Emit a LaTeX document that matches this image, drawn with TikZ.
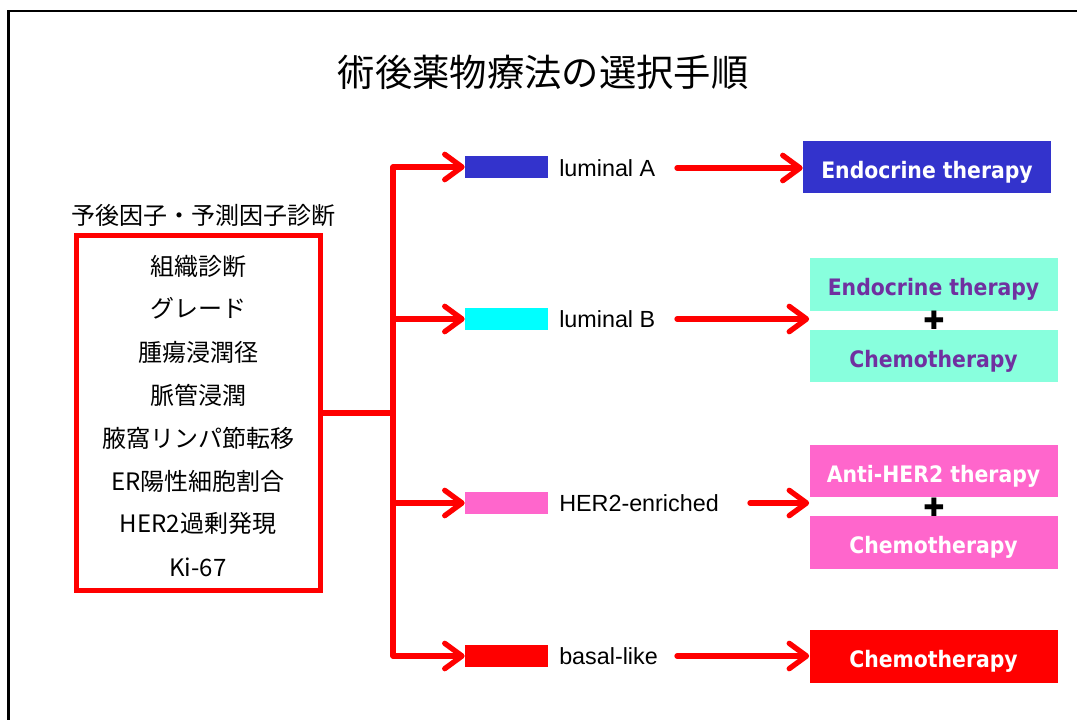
\documentclass[tikz,border=0pt]{standalone}
\usepackage{fontspec}
\setmainfont{Liberation Sans}
\newfontfamily\jp{Noto Sans CJK JP}
\newfontfamily\bx{DejaVu Sans Condensed}
\newfontfamily\sym{DejaVu Sans}
\usetikzlibrary{arrows.meta}
\definecolor{cblue}{RGB}{51,51,204}
\definecolor{ccyan}{RGB}{0,255,255}
\definecolor{cpink}{RGB}{255,102,204}
\definecolor{caqua}{RGB}{136,255,221}
\definecolor{cpurple}{RGB}{112,48,160}
\tikzset{
  arr/.style={draw=red, line width=4pt, line cap=round, line join=round,
    -{Straight Barb[length=13pt,width=19pt,round]}},
  conn/.style={draw=red, line width=4pt, line cap=round, line join=round},
  item/.style={font=\jp\fontsize{18}{20}\selectfont, inner sep=0pt},
  tag/.style={minimum width=62.25pt, minimum height=17pt, inner sep=0pt},
  lab/.style={font=\fontsize{17.5}{20}\selectfont, anchor=west, inner sep=0pt},
  tbox/.style={minimum width=186pt, minimum height=39.5pt, inner sep=0pt,
    text height=17pt, text depth=0pt,
    font=\bx\bfseries\fontsize{17}{20}\selectfont},
  plus/.style={font=\sym\fontsize{19}{22}\selectfont, inner sep=0pt}
}
\begin{document}
\begin{tikzpicture}[x=0.75pt,y=-0.75pt]
\useasboundingbox (0,0) rectangle (1077,720);
\draw[line width=2.2pt] (1080,11) -- (8.5,11) -- (8.5,725);
\node[font=\jp\fontsize{28}{32}\selectfont] (title) at (543,72) {術後薬物療法の選択手順};
\node[item] (head) at (203,215) {予後因子・予測因子診断};
\node[draw=red, line width=3.8pt, minimum width=183.4pt, minimum height=266.6pt, inner sep=0pt] (fbox) at (198.5,413) {};
\node[item] (i1) at (198,266) {組織診断};
\node[item] (i2) at (198,308) {グレード};
\node[item] (i3) at (198,352) {腫瘍浸潤径};
\node[item] (i4) at (198,395) {脈管浸潤};
\node[item] (i5) at (198,438) {腋窩リンパ節転移};
\node[item] (i6) at (198,481) {ER陽性細胞割合};
\node[item] (i7) at (198,523) {HER2過剰発現};
\node[item] (i8) at (198,567) {Ki-67};
\coordinate (j) at (393,413);
\node[tag, fill=cblue] (ra) at (506.5,167) {};
\node[tag, fill=ccyan] (rb) at (506.5,319) {};
\node[tag, fill=cpink] (rc) at (506.5,503) {};
\node[tag, fill=red] (rd) at (506.5,656) {};
\node[lab] (la) at (559,168) {luminal A};
\node[lab] (lb) at (559,319) {luminal B};
\node[lab] (lc) at (559,503) {HER2-enriched};
\node[lab] (ld) at (559,656) {basal-like};
\draw[conn] (fbox.east) -- (j);
\draw[arr] (j) |- (ra.west);
\draw[arr] (j) |- (rb.west);
\draw[arr] (j) |- (rc.west);
\draw[arr] (j) |- (rd.west);
\node[tbox, fill=cblue, text=white] (ea) at (927,167) {Endocrine therapy};
\node[tbox, fill=caqua, text=cpurple] (eb) at (933.5,284.5) {Endocrine therapy};
\node[plus] (pb) at (934,320) {✚};
\node[tbox, fill=caqua, text=cpurple] (cb) at (933.5,356) {Chemotherapy};
\node[tbox, fill=cpink, text=white] (hc) at (933.5,471) {Anti-HER2 therapy};
\node[plus] (pc) at (934,507) {✚};
\node[tbox, fill=cpink, text=white] (cc) at (933.5,542.5) {Chemotherapy};
\node[tbox, fill=red, text=white] (cd) at (933.5,656.5) {Chemotherapy};
\coordinate (sa) at (677,168);
\coordinate (sb) at (677,319);
\coordinate (sc) at (750,503);
\coordinate (sd) at (677,656);
\draw[arr] (sa) -- (sa -| ea.west);
\draw[arr] (sb) -- (sb -| eb.west);
\draw[arr] (sc) -- (sc -| hc.west);
\draw[arr] (sd) -- (sd -| cd.west);
\end{tikzpicture}
\end{document}
